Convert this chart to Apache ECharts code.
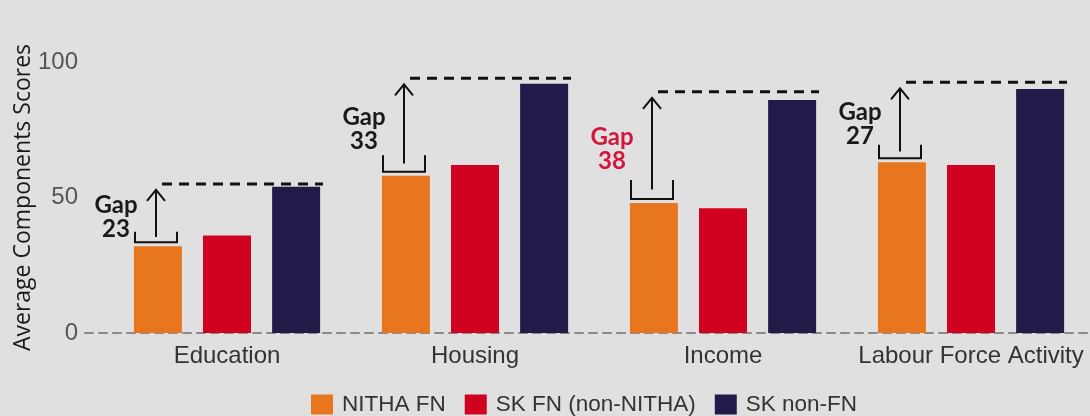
<!DOCTYPE html>
<html>
<head>
<meta charset="utf-8">
<script src="https://cdn.jsdelivr.net/npm/echarts@6/dist/echarts.min.js"></script>
<style>
  html, body { margin: 0; padding: 0; background: #e1e0e1; }
  #main { width: 1090px; height: 416px; }
</style>
</head>
<body>
<div id="main"></div>
<script>
var categories = ['Education', 'Housing', 'Income', 'Labour Force Activity'];
var seriesNames = ['NITHA FN', 'SK FN (non-NITHA)', 'SK non-FN'];
var nithaFN = [32, 58, 48, 63];
var skFN = [36, 62, 46, 62];
var skNonFN = [54, 92, 86, 90];
// top of each dashed "gap" line and the gap printed beside the arrow
var gapTarget = [55, 94, 89, 92.5];
var gapLabels = [23, 33, 38, 27];
var yTicks = [0, 50, 100];

var colors = ['#e8761e', '#d0021f', '#231a4a'];
var highlightIndex = 2;

var gapData = categories.map(function (c, i) {
    return [i, nithaFN[i], gapTarget[i], gapLabels[i]];
});

function renderGap(params, api) {
    var i = api.value(0);
    var band = api.size([1, 0])[0];
    var k = band / 248;
    var cx = api.coord([i, 0])[0];
    var yBar = api.coord([i, api.value(1)])[1];
    var yTop = api.coord([i, api.value(2)])[1];
    var ax = cx - 71 * k;
    var dist = yBar - yTop;
    var bh = 0.17 * dist;
    var bBot = yBar - 4;
    var bTop = bBot - bh;
    var tip = yTop + 6;
    var ink = '#111';
    var txtColor = i === highlightIndex ? '#d2163c' : '#1a1a1a';
    return {
        type: 'group',
        children: [{
            type: 'polyline',
            shape: { points: [[ax - 21 * k, bTop], [ax - 21 * k, bBot], [ax + 21 * k, bBot], [ax + 21 * k, bTop]] },
            style: { stroke: ink, lineWidth: 2, fill: null }
        }, {
            type: 'line',
            shape: { x1: ax, y1: bBot - bh / 2, x2: ax, y2: tip },
            style: { stroke: ink, lineWidth: 2 }
        }, {
            type: 'polyline',
            shape: { points: [[ax - 9, tip + 11], [ax, tip], [ax + 9, tip + 11]] },
            style: { stroke: ink, lineWidth: 2, fill: null }
        }, {
            type: 'line',
            shape: { x1: ax + 6, y1: yTop, x2: cx + 96 * k, y2: yTop },
            style: { stroke: ink, lineWidth: 3, lineDash: [10, 7] }
        }, {
            type: 'text',
            x: ax - 40,
            y: (yBar + yTop) / 2 + 2,
            style: {
                text: 'Gap\n' + api.value(3),
                fill: txtColor,
                font: 'bold 24px Lato',
                lineHeight: 24,
                align: 'center',
                verticalAlign: 'middle'
            }
        }]
    };
}

var chart = echarts.init(document.getElementById('main'));
var option = {
    backgroundColor: '#e1e0e1',
    animation: false,
    legend: {
        data: seriesNames,
        left: 311,
        top: 393,
        padding: 0,
        icon: 'rect',
        itemWidth: 22,
        itemHeight: 20,
        itemGap: 19,
        textStyle: { color: '#333', fontSize: 22.5, fontFamily: 'Liberation Sans', padding: [0, 0, 0, 4] }
    },
    grid: [{
        left: 103,
        right: -5,
        top: 62,
        bottom: 83,
        outerBoundsMode: 'none'
    }, {
        // only carries the long dashed zero line
        left: 85,
        right: 0,
        top: 62,
        bottom: 83,
        outerBoundsMode: 'none'
    }],
    xAxis: [{
        type: 'category',
        gridIndex: 0,
        data: categories,
        axisLine: { show: false },
        axisTick: { show: false },
        axisLabel: { interval: 0, color: '#333', fontSize: 24, fontFamily: 'Liberation Sans', margin: 11 }
    }, {
        type: 'value',
        gridIndex: 1,
        min: 0,
        max: 1,
        axisLine: { show: true, lineStyle: { color: '#8a8a8a', width: 2, type: [8, 6] } },
        axisTick: { show: false },
        axisLabel: { show: false },
        splitLine: { show: false }
    }],
    yAxis: [{
        type: 'value',
        gridIndex: 0,
        min: yTicks[0],
        max: yTicks[yTicks.length - 1],
        interval: yTicks[1] - yTicks[0],
        name: 'Average Components Scores',
        nameLocation: 'middle',
        nameRotate: 90,
        nameGap: 68,
        nameMoveOverlap: false,
        nameTextStyle: { color: '#1a1a1a', fontSize: 23, fontFamily: 'Open Sans' },
        axisLine: { show: false },
        axisTick: { show: false },
        splitLine: { show: false },
        axisLabel: { color: '#555', fontSize: 24, fontFamily: 'Liberation Sans', margin: 25 }
    }, {
        type: 'value',
        gridIndex: 1,
        show: false
    }],
    series: [{
        name: seriesNames[0],
        type: 'bar',
        data: nithaFN,
        barWidth: 48,
        barGap: '44%',
        itemStyle: { color: colors[0] }
    }, {
        name: seriesNames[1],
        type: 'bar',
        data: skFN,
        barWidth: 48,
        barGap: '44%',
        itemStyle: { color: colors[1] }
    }, {
        name: seriesNames[2],
        type: 'bar',
        data: skNonFN,
        barWidth: 48,
        barGap: '44%',
        itemStyle: { color: colors[2] }
    }, {
        type: 'custom',
        renderItem: renderGap,
        data: gapData,
        encode: { x: 0, y: 1 },
        silent: true,
        z: 10
    }]
};
chart.setOption(option);
</script>
</body>
</html>
